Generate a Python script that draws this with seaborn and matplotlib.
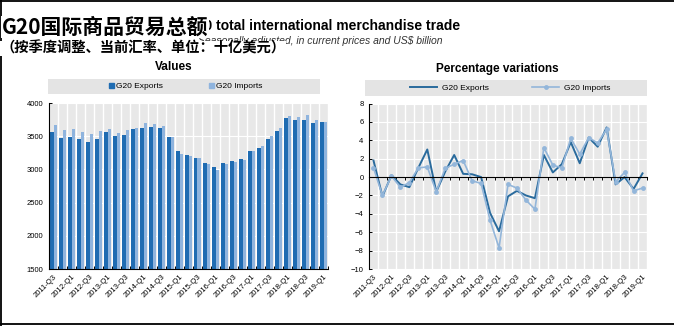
import numpy as np
import pandas as pd
import matplotlib
matplotlib.use("Agg")
import matplotlib.pyplot as plt
import seaborn as sns
from matplotlib.patches import Rectangle, Patch
from matplotlib.lines import Line2D
from matplotlib.ticker import FixedLocator

# ---------------- data ----------------
quarters = ["2011-Q3", "2011-Q4", "2012-Q1", "2012-Q2", "2012-Q3", "2012-Q4",
            "2013-Q1", "2013-Q2", "2013-Q3", "2013-Q4", "2014-Q1", "2014-Q2",
            "2014-Q3", "2014-Q4", "2015-Q1", "2015-Q2", "2015-Q3", "2015-Q4",
            "2016-Q1", "2016-Q2", "2016-Q3", "2016-Q4", "2017-Q1", "2017-Q2",
            "2017-Q3", "2017-Q4", "2018-Q1", "2018-Q2", "2018-Q3", "2018-Q4",
            "2019-Q1"]
exports_val = [3560, 3476, 3485, 3458, 3418, 3455, 3560, 3505, 3525, 3602, 3620,
               3635, 3625, 3483, 3277, 3223, 3173, 3099, 3035, 3099, 3119, 3163,
               3282, 3317, 3465, 3579, 3772, 3738, 3738, 3693, 3713]
imports_val = [3670, 3596, 3602, 3560, 3538, 3572, 3605, 3555, 3588, 3630, 3702,
               3690, 3660, 3490, 3238, 3208, 3168, 3079, 2995, 3084, 3114, 3149,
               3282, 3356, 3500, 3624, 3807, 3792, 3812, 3748, 3713]
exports_pct = [1.8, -2.1, 0.2, -0.8, -1.1, 1.0, 3.0, -1.6, 0.6, 2.4, 0.35, 0.3,
               0.0, -3.9, -5.9, -2.1, -1.5, -2.0, -2.3, 2.4, 0.5, 1.4, 3.8, 1.5,
               4.3, 3.3, 5.4, -0.8, 0.0, -1.3, 0.4]
imports_pct = [1.0, -2.0, 0.1, -1.1, -0.6, 1.0, 1.1, -1.6, 0.95, 1.4, 1.8, -0.4,
               -0.7, -4.7, -7.7, -0.8, -1.2, -2.5, -3.5, 3.2, 1.3, 1.0, 4.2, 2.5,
               4.3, 3.7, 5.2, -0.5, 0.5, -1.5, -1.2]
series_names = ["G20 Exports", "G20 Imports"]

# ---------------- style ----------------
exp_bar = "#1f6cb2"
imp_bar = "#8fb4de"
exp_line = "#2a6b9d"
imp_line = "#93b6da"
plot_bg = "#e8e8e8"
legend_bg = "#e4e4e4"

plt.rcParams["font.family"] = ["Liberation Sans", "Noto Sans CJK SC", "DejaVu Sans"]
cjk = ["Noto Sans CJK SC", "DejaVu Sans"]

fig = plt.figure(figsize=(6.74, 3.26), dpi=100)
ax1 = fig.add_axes([49 / 674, 1 - 269 / 326, 279 / 674, 166 / 326])
ax2 = fig.add_axes([369 / 674, 1 - 269 / 326, 278 / 674, 165.5 / 326])

n = len(quarters)
idx = np.arange(n)
bounds = np.arange(-0.5, n, 1.0)

# ---------------- left: values ----------------
df_vals = pd.DataFrame({
    "quarter": quarters * 2,
    "value": exports_val + imports_val,
    "series": [series_names[0]] * n + [series_names[1]] * n,
})
sns.barplot(data=df_vals, x="quarter", y="value", hue="series",
            palette=[exp_bar, imp_bar], width=0.74, gap=0, saturation=1,
            linewidth=0, legend=False, ax=ax1)
ax1.set_facecolor(plot_bg)
ax1.set_axisbelow(True)
ax1.set_ylim(1500, 4000)
ax1.set_xlim(-0.5, n - 0.5)
ax1.set_yticks(np.arange(1500, 4001, 500))
ax1.set_xticks(idx[::2])
ax1.set_xticklabels(quarters[::2], rotation=45, ha="right",
                    rotation_mode="anchor", fontsize=5.5)
ax1.xaxis.set_minor_locator(FixedLocator(bounds))
ax1.tick_params(axis="x", which="major", length=0, pad=3)
ax1.tick_params(axis="x", which="minor", length=2.5, direction="in",
                width=0.7, color="black")
ax1.tick_params(axis="y", labelsize=5.5, length=2.5, direction="in", width=0.7, pad=4)
ax1.grid(which="minor", axis="x", color="white", lw=1)
ax1.grid(which="major", axis="y", color="white", lw=0.8)
ax1.grid(which="major", axis="x", visible=False)
for s in ["top", "right"]:
    ax1.spines[s].set_visible(False)
for s in ["left", "bottom"]:
    ax1.spines[s].set_color("black")
    ax1.spines[s].set_linewidth(0.8)
ax1.set_xlabel("")
ax1.set_ylabel("")

ax1.add_patch(Rectangle((-0.004, 1.054), 0.975, 0.091, transform=ax1.transAxes,
                        facecolor=legend_bg, edgecolor="none", clip_on=False, zorder=0))
h1 = [Patch(color=exp_bar), Patch(color=imp_bar)]
ax1.legend(h1, series_names, loc="center", bbox_to_anchor=(0.49, 1.099), ncol=2,
           frameon=False, fontsize=6, handlelength=0.6, handleheight=0.6,
           columnspacing=5.5, handletextpad=0.25, borderpad=0)
ax1.text(0.448, 1.217, "Values", transform=ax1.transAxes, ha="center",
         va="center", fontsize=8.5, weight="bold")

# ---------------- right: percentage variations ----------------
df_pct = pd.DataFrame({"idx": idx, "exp": exports_pct, "imp": imports_pct})
sns.lineplot(data=df_pct, x="idx", y="exp", color=exp_line, lw=1.4, ax=ax2)
sns.lineplot(data=df_pct, x="idx", y="imp", color=imp_line, lw=1.2, marker="o",
             markersize=3.5, markeredgewidth=0, ax=ax2)
ax2.set_facecolor(plot_bg)
ax2.set_axisbelow(True)
ax2.set_ylim(-10, 8)
ax2.set_xlim(-0.5, n - 0.5)
ax2.set_yticks(np.arange(-10, 9, 2))
ax2.set_xticks([])
ax2.xaxis.set_minor_locator(FixedLocator(bounds))
ax2.tick_params(axis="x", which="minor", length=2.5, direction="out",
                width=0.7, color="black", labelbottom=False)
ax2.tick_params(axis="y", labelsize=5.5, length=2.5, direction="in", width=0.7, pad=4)
ax2.grid(which="minor", axis="x", color="white", lw=1)
ax2.grid(which="major", axis="y", color="white", lw=0.8)
for s in ["top", "right"]:
    ax2.spines[s].set_visible(False)
ax2.spines["bottom"].set_position(("data", 0))
for s in ["left", "bottom"]:
    ax2.spines[s].set_color("black")
    ax2.spines[s].set_linewidth(0.8)
ax2.set_xlabel("")
ax2.set_ylabel("")

sec = ax2.secondary_xaxis("bottom")
sec.set_xticks(idx[::2])
sec.set_xticklabels(quarters[::2], rotation=45, ha="right",
                    rotation_mode="anchor", fontsize=5.5)
sec.tick_params(length=0, pad=3)
sec.spines["bottom"].set_visible(False)

ax2.add_patch(Rectangle((-0.014, 1.048), 1.014, 0.091, transform=ax2.transAxes,
                        facecolor=legend_bg, edgecolor="none", clip_on=False, zorder=0))
h2 = [Line2D([0], [0], color=exp_line, lw=1.4),
      Line2D([0], [0], color=imp_line, lw=1.2, marker="o", markersize=3.5,
             markeredgewidth=0)]
ax2.legend(h2, series_names, loc="center", bbox_to_anchor=(0.507, 1.095), ncol=2,
           frameon=False, fontsize=6, handlelength=3.3, columnspacing=5.2,
           handletextpad=0.5, borderpad=0)
ax2.text(0.46, 1.21, "Percentage variations", transform=ax2.transAxes,
         ha="center", va="center", fontsize=8.5, weight="bold")

# ---------------- titles ----------------
fig.text(186 / 674, 1 - 26 / 326, "G20 total international merchandise trade",
         fontsize=10, weight="bold", ha="left", va="center", zorder=1)
fig.text(198 / 674, 1 - 40.5 / 326,
         "Seasonally adjusted, in current prices and US$ billion",
         fontsize=7.5, style="italic", color="#333333", ha="left", va="center",
         zorder=1)
fig.text(2 / 674, 1 - 27 / 326, "G20国际商品贸易总额", family=cjk, fontsize=15,
         weight="bold", ha="left", va="center", zorder=3,
         bbox=dict(facecolor="white", edgecolor="none", pad=0.5))
fig.text(0 / 674, 1 - 48.5 / 326, "（按季度调整、当前汇率、单位：十亿美元）",
         family=cjk, fontsize=10.3, weight="bold", ha="left", va="center",
         zorder=3, bbox=dict(facecolor="white", edgecolor="none", pad=0.5))

# frame
for xs, ys in [([0, 1], [1 - 1 / 326, 1 - 1 / 326]),
               ([1 / 674, 1 / 674], [0, 1]),
               ([0, 1], [2.5 / 326, 2.5 / 326])]:
    fig.add_artist(Line2D(xs, ys, transform=fig.transFigure, color="black", lw=1.3))

fig.savefig("out.png", dpi=100)
